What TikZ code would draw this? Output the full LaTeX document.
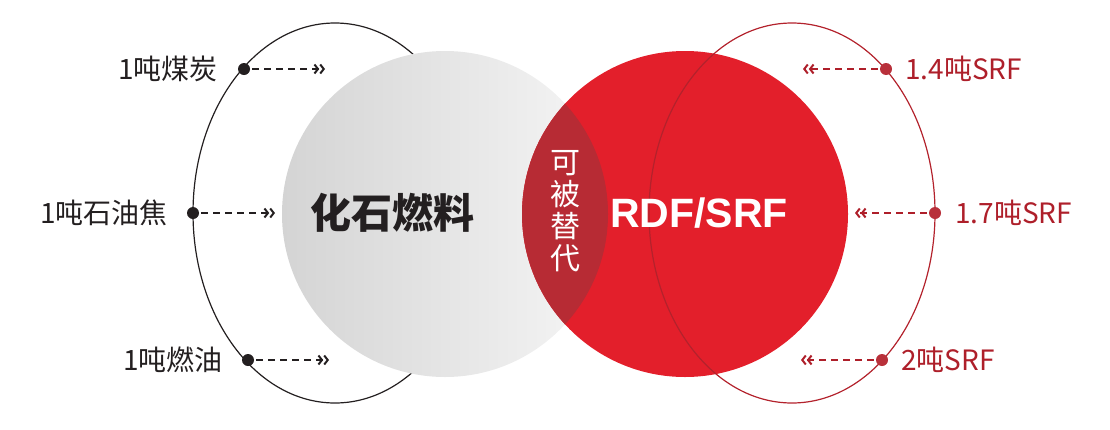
\documentclass[tikz,border=0pt]{standalone}
\usepackage{fontspec}
\setmainfont{Noto Sans CJK SC}
\newfontfamily\latinfont{Liberation Sans}
\usetikzlibrary{arrows.meta,positioning}
\definecolor{inkgrey}{HTML}{231F20}
\definecolor{fossilL}{HTML}{D4D4D4}
\definecolor{fossilR}{HTML}{F6F6F6}
\definecolor{rdfred}{HTML}{E31F2B}
\definecolor{lensred}{HTML}{B72B34}
\definecolor{srfline}{HTML}{B3222C}
\definecolor{srftext}{HTML}{AE1F2A}
\definecolor{srfdot}{HTML}{B8303A}

\begin{document}
\begin{tikzpicture}[x=1pt, y=-1pt,
  font=\fontsize{28}{32}\selectfont,
  bullet/.style={circle, fill=#1, inner sep=0pt, minimum size=12pt},
  lbl/.style={inner sep=0pt, text=#1},
  feed/.style={draw=#1, line width=1.6pt, dash pattern=on 7pt off 5pt,
    -{Straight Barb[length=3.5pt,width=9pt,line width=2pt]Straight Barb[length=3.5pt,width=9pt,line width=2pt]}},
  ring/.style={draw=#1, line width=1.2pt}
]
  \useasboundingbox (0,0) rectangle (1110,429);

  % outline ring behind the fossil circle
  \draw[ring=inkgrey] (335,213) ellipse [x radius=142pt, y radius=190pt];

  \shade[left color=fossilL, right color=fossilR] (445,214) circle [radius=163pt];
  \fill[rdfred] (685,214) circle [radius=163pt];
  \begin{scope}
    \clip (445,214) circle [radius=163pt];
    \fill[lensred] (685,214) circle [radius=163pt];
  \end{scope}

  \draw[ring=srfline] (792,213) ellipse [x radius=143pt, y radius=190pt];

  \node[font=\fontsize{41}{41}\selectfont\bfseries, text=inkgrey] (fossil) at (392,213) {化石燃料};
  \node[font=\fontsize{41}{41}\selectfont\latinfont\bfseries, text=white] (rdf) at (699,213) {RDF/SRF};
  \node[font=\fontsize{30}{32}\selectfont, text=white, align=center] (swap) at (565,211) {可\\被\\替\\代};

  % fossil side
  \node[bullet=inkgrey] (d1) at (244,69) {};
  \node[bullet=inkgrey] (d2) at (193,213) {};
  \node[bullet=inkgrey] (d3) at (248,360) {};
  \node[lbl=inkgrey, left=20pt of d1] (coal) {1吨煤炭};
  \node[lbl=inkgrey, left=19pt of d2] (coke) {1吨石油焦};
  \node[lbl=inkgrey, left=19pt of d3] (oil) {1吨燃油};
  \coordinate (e1) at (325,69);
  \coordinate (e2) at (275,213);
  \coordinate (e3) at (329,360);
  \draw[feed=inkgrey, shorten <=2pt] (d1.east) -- (e1);
  \draw[feed=inkgrey, shorten <=2pt] (d2.east) -- (e2);
  \draw[feed=inkgrey, shorten <=2pt] (d3.east) -- (e3);

  % srf side
  \node[bullet=srfdot] (s1) at (886,69) {};
  \node[bullet=srfdot] (s2) at (935,213) {};
  \node[bullet=srfdot] (s3) at (882,360) {};
  \node[lbl=srftext, right=13pt of s1] (srfa) {1.4吨SRF};
  \node[lbl=srftext, right=14pt of s2] (srfb) {1.7吨SRF};
  \node[lbl=srftext, right=13pt of s3] (srfc) {2吨SRF};
  \coordinate (f1) at (803,69);
  \coordinate (f2) at (855,213);
  \coordinate (f3) at (801,360);
  \draw[feed=srftext, shorten <=2pt] (s1.west) -- (f1);
  \draw[feed=srftext, shorten <=2pt] (s2.west) -- (f2);
  \draw[feed=srftext, shorten <=2pt] (s3.west) -- (f3);
\end{tikzpicture}
\end{document}
